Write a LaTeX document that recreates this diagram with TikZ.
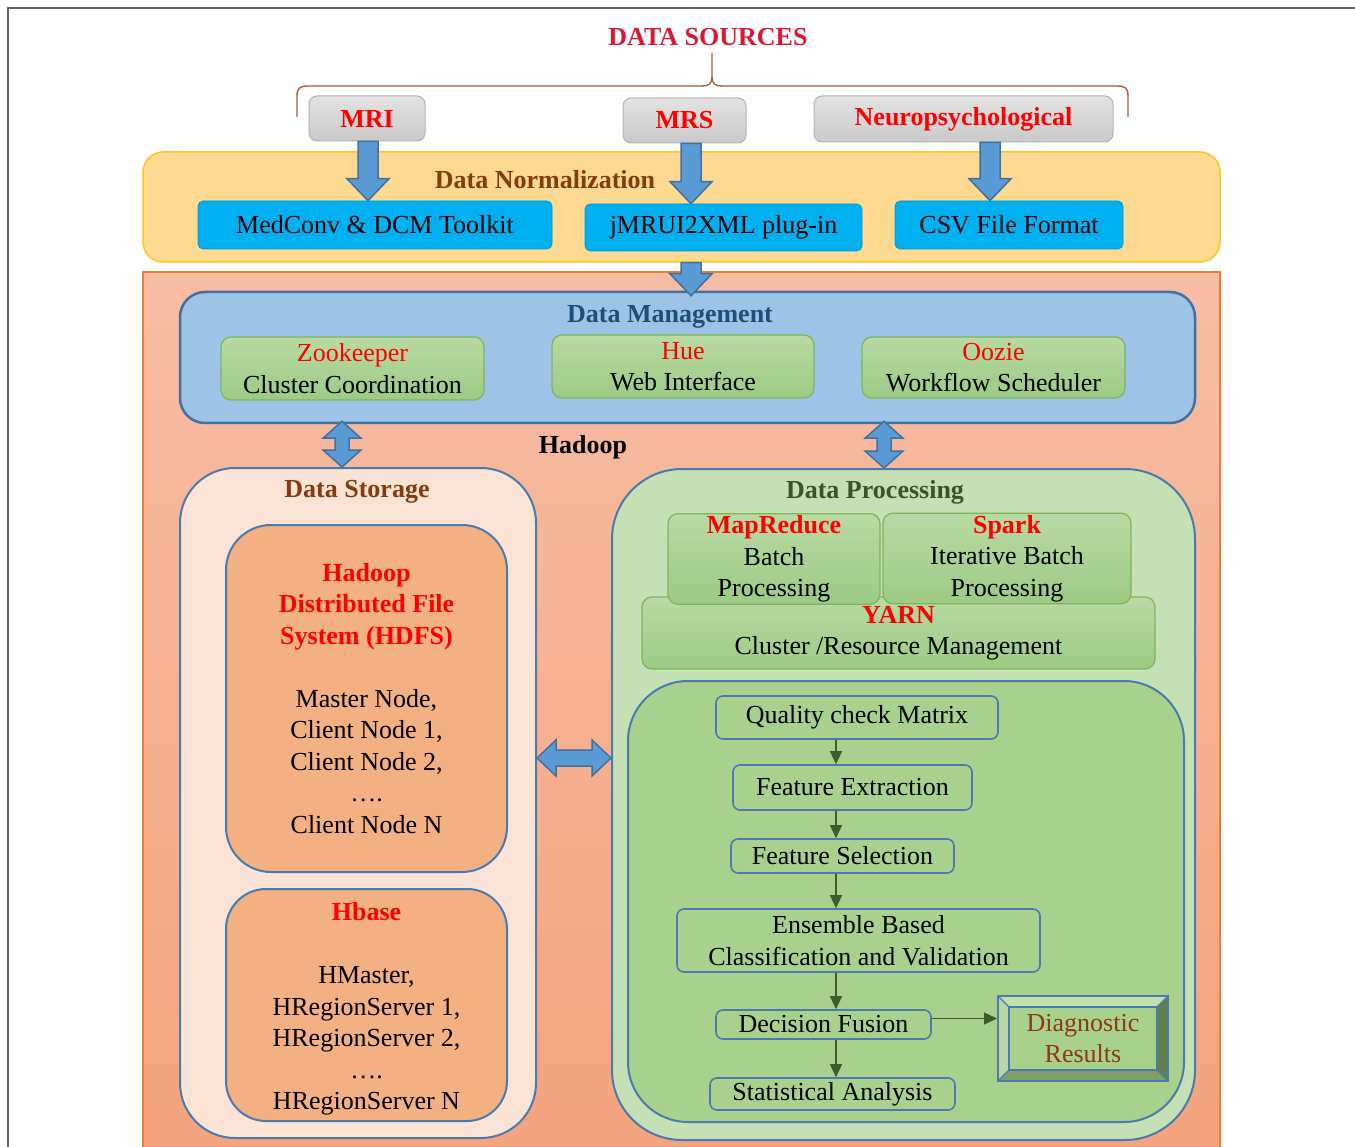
\documentclass[tikz,border=0pt]{standalone}
\usepackage{fontspec}
\setmainfont{Liberation Serif}
\usetikzlibrary{arrows.meta,calc}

\newcommand{\bodyfont}{\fontsize{26}{31.5}\selectfont}

\definecolor{srcred}{RGB}{222,22,52}
\definecolor{titlebrown}{HTML}{843C0C}
\definecolor{titleblue}{HTML}{1F4E79}
\definecolor{titlegreen}{HTML}{385723}
\definecolor{edgeblue}{HTML}{4A7BAE}
\definecolor{arrowblue}{HTML}{5B9BD5}
\definecolor{arrowedge}{HTML}{41719C}
\definecolor{normfill}{HTML}{FDD992}
\definecolor{normedge}{HTML}{FFC526}
\definecolor{cyanfill}{HTML}{00B0F0}
\definecolor{hadooptop}{HTML}{F7BDA4}
\definecolor{hadoopbot}{HTML}{F4A47E}
\definecolor{hadoopedge}{HTML}{ED7D31}
\definecolor{mgmtfill}{HTML}{9DC3E6}
\definecolor{greentop}{HTML}{B9DAA4}
\definecolor{greenbot}{HTML}{9CCA84}
\definecolor{greenedge}{HTML}{7DB65A}
\definecolor{storefill}{HTML}{FBE4D6}
\definecolor{hdfsfill}{HTML}{F2B083}
\definecolor{procfill}{HTML}{C5E0B4}
\definecolor{pipefill}{HTML}{A9D18E}
\definecolor{pipearrow}{HTML}{3B5E2B}
\definecolor{bracebrown}{HTML}{A0603C}
\definecolor{diagtext}{HTML}{8B3A12}
\definecolor{bevtop}{HTML}{C3DFB0}
\definecolor{bevleft}{HTML}{B8D7A4}
\definecolor{bevright}{HTML}{627F4E}
\definecolor{bevbottom}{HTML}{7F9E69}

\tikzset{
  srcbox/.style={draw=gray!60, line width=1pt, rounded corners=8pt, top color=gray!22, bottom color=gray!42,
    font=\bodyfont\bfseries, text=red, inner sep=2pt},
  cyanbox/.style={fill=cyanfill, draw=cyanfill!85!black, line width=0.6pt, rounded corners=5pt, inner sep=2pt},
  greenbox/.style={draw=greenedge, line width=1.2pt, rounded corners=10pt, top color=greentop, bottom color=greenbot,
    align=center, inner sep=2pt},
  bigbox/.style={draw=edgeblue, line width=2pt, inner sep=0pt},
  boxtitle/.style={font=\bodyfont\bfseries},
  flowbox/.style={draw=edgeblue, line width=1.6pt, rounded corners=7pt, fill=pipefill, align=center, inner sep=2pt},
  fatarrow/.style={fill=arrowblue, draw=arrowedge, line width=1.5pt, line join=miter},
  flowarrow/.style={-{Triangle[length=13pt,width=12pt]}, draw=pipearrow, line width=1.3pt},
}

% fat blue arrows
\newcommand{\fatdown}[2]{%
  \filldraw[fatarrow] let \p1=#1, \p2=#2 in
    (\x1-10pt,\y1) -- (\x1+10pt,\y1) -- (\x1+10pt,\y2+22pt) -- (\x1+21pt,\y2+22pt)
    -- (\x1,\y2) -- (\x1-21pt,\y2+22pt) -- (\x1-10pt,\y2+22pt) -- cycle;}
\newcommand{\fatvboth}[2]{%
  \filldraw[fatarrow] let \p1=#1, \p2=#2 in
    (\x1,\y1) -- (\x1+19pt,\y1-17pt) -- (\x1+7pt,\y1-17pt) -- (\x1+7pt,\y2+17pt) -- (\x1+19pt,\y2+17pt)
    -- (\x1,\y2) -- (\x1-19pt,\y2+17pt) -- (\x1-7pt,\y2+17pt) -- (\x1-7pt,\y1-17pt) -- (\x1-19pt,\y1-17pt) -- cycle;}
\newcommand{\fathboth}[2]{%
  \filldraw[fatarrow] let \p1=#1, \p2=#2 in
    (\x1,\y1) -- (\x1+19pt,\y1+18pt) -- (\x1+19pt,\y1+8pt) -- (\x2-19pt,\y1+8pt) -- (\x2-19pt,\y1+18pt)
    -- (\x2,\y1) -- (\x2-19pt,\y1-18pt) -- (\x2-19pt,\y1-8pt) -- (\x1+19pt,\y1-8pt) -- (\x1+19pt,\y1-18pt) -- cycle;}

\begin{document}
\begin{tikzpicture}[x=1pt,y=-1pt,font=\bodyfont]
\useasboundingbox (0,0) rectangle (1355,1147);

% frame
\draw[line width=2pt, gray!75!black] (8,1147) -- (8,8) -- (1355,8);

% data sources
\node[boxtitle, text=srcred] (srctitle) at (708,37) {DATA SOURCES};
\draw[bracebrown, line width=1.4pt] (297,117) -- (297,96) .. controls (297,88) and (300,86) .. (308,86) -- (702,86)
  .. controls (709,86) and (712,84) .. (712,76) -- (712,53) -- (712,76)
  .. controls (712,84) and (715,86) .. (722,86) -- (1117,86) .. controls (1125,86) and (1128,88) .. (1128,96) -- (1128,117);

\node[srcbox, minimum width=116pt, minimum height=45pt] (mri) at (367,118.5) {MRI};
\node[srcbox, minimum width=123pt, minimum height=45pt] (mrs) at (684.5,120.5) {MRS};
\node[srcbox, minimum width=299pt, minimum height=46pt] (neuro) at (963.5,119) {Neuropsychological};

% data normalization
\node[fill=normfill, draw=normedge, line width=1.5pt, rounded corners=20pt,
  minimum width=1077pt, minimum height=110pt] (norm) at (681.5,207) {};
\node[boxtitle, text=titlebrown] (normtitle) at (545,180) {Data Normalization};
\node[cyanbox, minimum width=354pt, minimum height=48pt] (medconv) at (375,225) {MedConv \& DCM Toolkit};
\node[cyanbox, minimum width=277pt, minimum height=47pt] (jmrui) at (723.5,227.5) {jMRUI2XML plug-in};
\node[cyanbox, minimum width=228pt, minimum height=48pt] (csv) at (1009,225) {CSV File Format};

% hadoop
\node[top color=hadooptop, bottom color=hadoopbot, draw=hadoopedge, line width=1.2pt,
  minimum width=1077pt, minimum height=880pt, inner sep=0pt] (hadoop) at (681.5,712) {};
\node[boxtitle] (hadooptitle) at (583,447) {Hadoop};

% data management
\node[bigbox, fill=mgmtfill, line width=2.5pt, draw=arrowedge, rounded corners=25pt,
  minimum width=1015pt, minimum height=131pt] (mgmt) at (687.5,357.5) {};
\node[boxtitle, text=titleblue] (mgmttitle) at (670,317) {Data Management};
\node[greenbox, minimum width=263pt, minimum height=63pt] (zoo) at (352.5,368.5) {{\color{red}Zookeeper}\\Cluster Coordination};
\node[greenbox, minimum width=262pt, minimum height=63pt] (hue) at (683,366.5) {{\color{red}Hue}\\Web Interface};
\node[greenbox, minimum width=263pt, minimum height=61pt] (oozie) at (993.5,367.5) {{\color{red}Oozie}\\Workflow Scheduler};

% data storage
\node[bigbox, fill=storefill, rounded corners=55pt, minimum width=356pt, minimum height=670pt] (storage) at (358,803) {};
\node[boxtitle, text=titlebrown] (storetitle) at (357,492) {Data Storage};
\node[bigbox, fill=hdfsfill, rounded corners=45pt, minimum width=281pt, minimum height=347pt, align=center] (hdfs) at (366.5,698.5)
  {{\bfseries\color{red}Hadoop}\\{\bfseries\color{red}Distributed File}\\{\bfseries\color{red}System (HDFS)}\\[31.5pt]
   Master Node,\\Client Node 1,\\Client Node 2,\\\dots.\\Client Node N};
\node[bigbox, fill=hdfsfill, rounded corners=40pt, minimum width=281pt, minimum height=232pt, align=center] (hbase) at (366.5,1005)
  {\rule{0pt}{26pt}{\bfseries\color{red}Hbase}\\[31.5pt]HMaster,\\HRegionServer 1,\\HRegionServer 2,\\\dots.\\HRegionServer N};

% data processing
\node[bigbox, fill=procfill, rounded corners=70pt, minimum width=583pt, minimum height=671pt] (proc) at (903.5,804.5) {};
\node[boxtitle, text=titlegreen] (proctitle) at (875,492) {Data Processing};
\node[greenbox, minimum width=513pt, minimum height=72pt] (yarn) at (898.5,633) {{\bfseries\color{red}YARN}\\Cluster /Resource Management};
\node[greenbox, minimum width=212pt, minimum height=86pt] (mapred) at (774,559) {{\bfseries\color{red}MapReduce}\\Batch\\Processing};
\node[greenbox, minimum width=248pt, minimum height=87pt] (spark) at (1007,558.5) {{\bfseries\color{red}Spark}\\Iterative Batch\\Processing};

\node[bigbox, fill=pipefill, rounded corners=60pt, minimum width=556pt, minimum height=441pt] (pipe) at (906,901.5) {};
\node[flowbox, minimum width=282pt, minimum height=43pt] (qc) at (857,717.5) {Quality check Matrix};
\node[flowbox, minimum width=239pt, minimum height=45pt] (fe) at (852.5,787.5) {Feature Extraction};
\node[flowbox, minimum width=223pt, minimum height=34pt] (fs) at (842.5,856) {Feature Selection};
\node[flowbox, minimum width=363pt, minimum height=63pt] (ens) at (858.5,940.5) {Ensemble Based\\Classification and Validation};
\node[flowbox, minimum width=215pt, minimum height=29pt] (df) at (823.5,1024.5) {Decision Fusion};
\node[flowbox, minimum width=245pt, minimum height=32pt] (sa) at (832.5,1094) {Statistical Analysis};

% diagnostic results, bevelled
\fill[bevtop] (998,996) -- (1168,996) -- (1157,1007) -- (1009,1007) -- cycle;
\fill[bevleft] (998,996) -- (1009,1007) -- (1009,1070) -- (998,1081) -- cycle;
\fill[bevright] (1168,996) -- (1168,1081) -- (1157,1070) -- (1157,1007) -- cycle;
\fill[bevbottom] (998,1081) -- (1168,1081) -- (1157,1070) -- (1009,1070) -- cycle;
\filldraw[fill=pipefill, draw=edgeblue, line width=1.5pt] (1009,1007) rectangle (1157,1070);
\draw[edgeblue, line width=1.2pt] (998,996) -- (1009,1007) (1168,996) -- (1157,1007)
  (1168,1081) -- (1157,1070) (998,1081) -- (1009,1070);
\node[draw=edgeblue, line width=2pt, minimum width=170pt, minimum height=85pt, align=center,
  text=diagtext, inner sep=0pt] (diag) at (1083,1038.5) {Diagnostic\\Results};

% flow arrows
\coordinate (flowx) at (836,0);
\draw[flowarrow] (qc.south -| flowx) -- (fe.north -| flowx);
\draw[flowarrow] (fe.south -| flowx) -- (fs.north -| flowx);
\draw[flowarrow] (fs.south -| flowx) -- (ens.north -| flowx);
\draw[flowarrow] (ens.south -| flowx) -- (df.north -| flowx);
\draw[flowarrow] (df.south -| flowx) -- (sa.north -| flowx);
\draw[flowarrow] ([yshift=6pt]df.east) -- ([yshift=6pt]diag.west |- df.east);

% blue arrows
\coordinate (cola) at (368,0);
\coordinate (colb) at (691,0);
\coordinate (colc) at (990,0);
\coordinate (cold) at (342,0);
\coordinate (cole) at (884,0);
\coordinate (rowa) at (0,758);
\fatdown{(mri.south -| cola)}{(medconv.north -| cola)}
\fatdown{(mrs.south -| colb)}{(jmrui.north -| colb)}
\fatdown{(neuro.south -| colc)}{(csv.north -| colc)}
\fatdown{(norm.south -| colb)}{([yshift=-5pt]mgmt.north -| colb)}
\fatvboth{([yshift=3pt]mgmt.south -| cold)}{(storage.north -| cold)}
\fatvboth{([yshift=3pt]mgmt.south -| cole)}{(proc.north -| cole)}
\fathboth{(storage.east |- rowa)}{(proc.west |- rowa)}
\end{tikzpicture}
\end{document}
